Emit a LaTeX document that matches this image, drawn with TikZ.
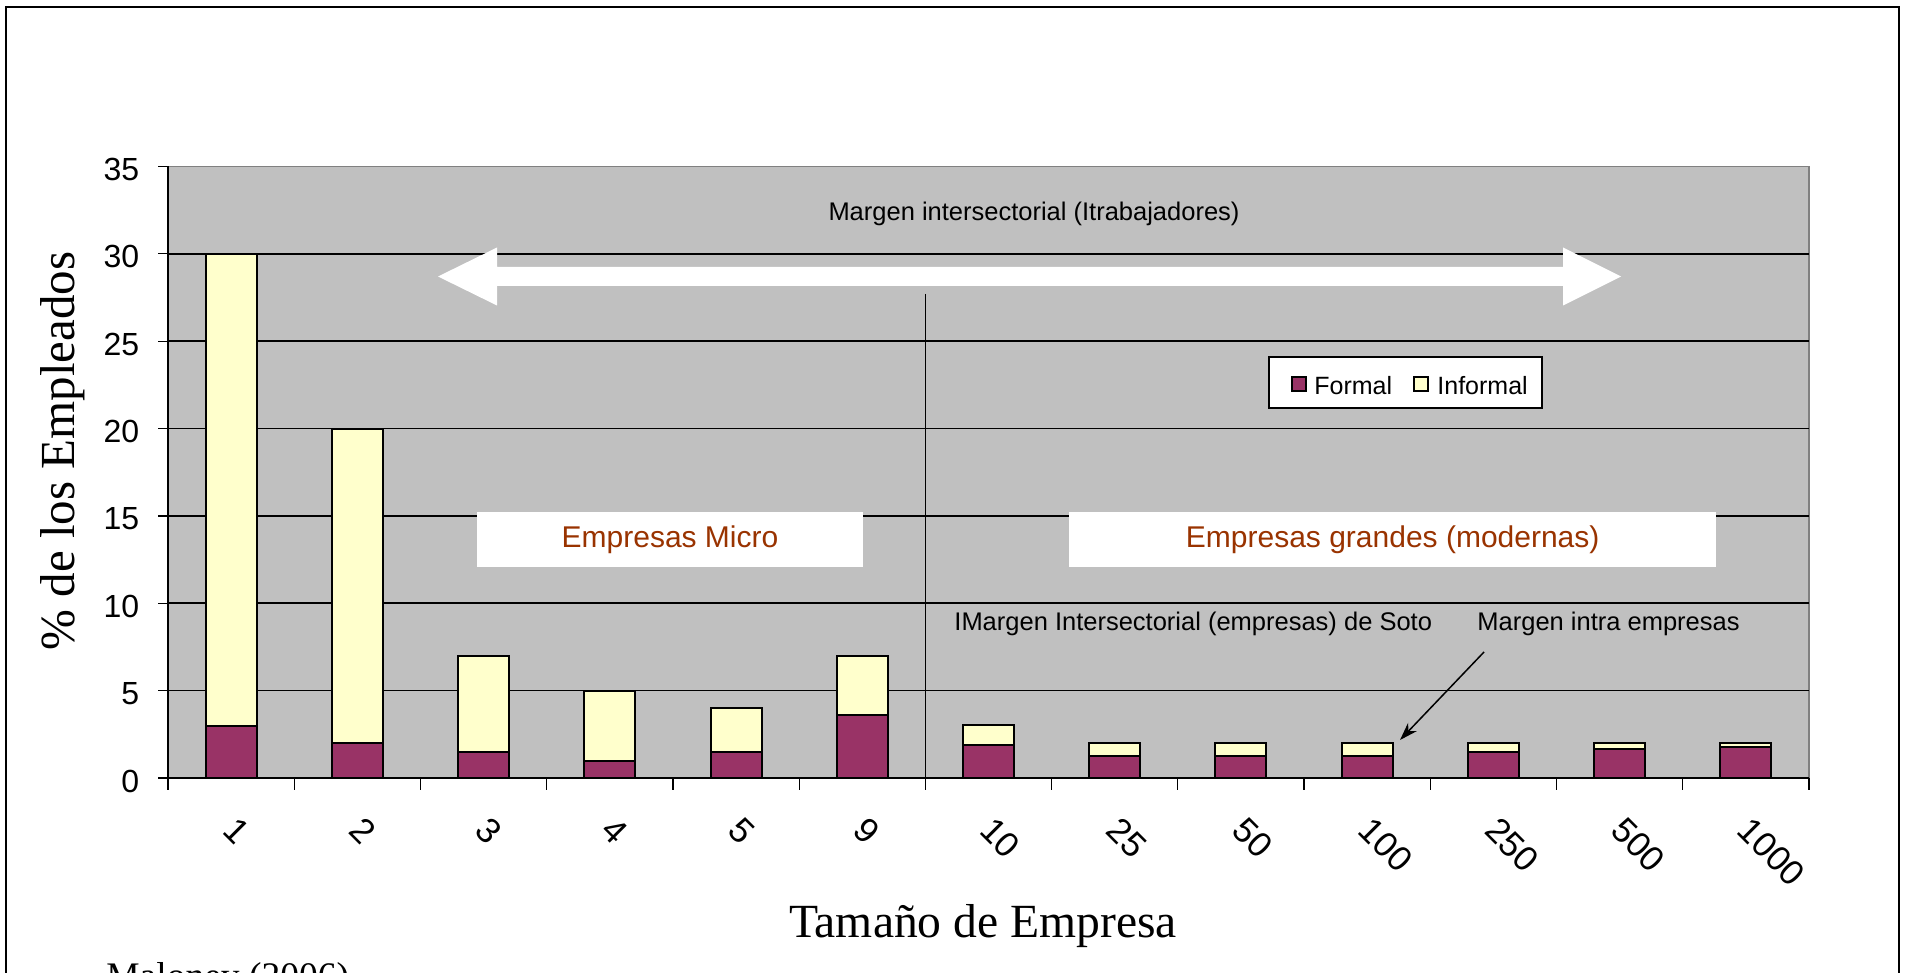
\documentclass[tikz,border=0pt]{standalone}
\usepackage{fontspec}
\setmainfont{Liberation Sans}
\newfontfamily\serifface{Liberation Serif}
\usetikzlibrary{arrows.meta}
\definecolor{formalcol}{HTML}{993366}
\definecolor{informalcol}{HTML}{FFFFCC}
\definecolor{plotbg}{HTML}{C0C0C0}
\definecolor{empcol}{HTML}{993300}
\tikzset{
  gridline/.style={line width=0.8pt, black},
  barstyle/.style={line width=1pt, black},
  axisline/.style={line width=1.1pt, black},
  tickline/.style={line width=0.6pt, black},
  ticklab/.style={font=\fontsize{16}{16}\selectfont, inner sep=0},
  xticklab/.style={font=\fontsize{17.5}{17.5}\selectfont, inner sep=0},
  annot/.style={font=\fontsize{12.75}{13}\selectfont, inner sep=0},
  empbox/.style={fill=white, inner sep=0, text=empcol, font=\fontsize{15}{15}\selectfont},
}
\begin{document}
\begin{tikzpicture}[x=0.5pt,y=-0.5pt]
\useasboundingbox (0,0) rectangle (1906,973);
\clip (0,0) rectangle (1906,973);
\fill[white] (0,0) rectangle (1906,973);
% plot area
\fill[plotbg] (168,166.5) rectangle (1809,778);
\draw[gray, line width=0.6pt] (168,166.5) -- (1809,166.5) -- (1809,778);
% gridlines
\foreach \v in {5,10,...,30} \draw[gridline] (168,{778-\v*17.471}) -- (1809,{778-\v*17.471});
% divider
\coordinate (divtop) at (925.4,294);
\coordinate (divbot) at (925.4,778);
\draw[line width=0.75pt] (divtop) -- (divbot);
% white double arrow
\fill[white] (438,276.5) -- (497,247.5) -- (497,267) -- (1563,267) -- (1563,247.5) -- (1621,276.5)
  -- (1563,305.5) -- (1563,286) -- (497,286) -- (497,305.5) -- cycle;
% bars
\foreach \i/\f/\t in {1/3/30, 2/2/20, 3/1.47/7, 4/1/5, 5/1.48/4, 6/3.58/7, 7/1.91/3.03, 8/1.25/2.03, 9/1.25/2.03, 10/1.25/2.03, 11/1.47/2.03, 12/1.68/2.03, 13/1.79/2.03}{
  \pgfmathsetmacro\cx{168+(\i-0.5)*126.23}
  \draw[barstyle, fill=informalcol] ({\cx-25.5},{778-\t*17.471}) rectangle ({\cx+25.5},{778-\f*17.471});
  \draw[barstyle, fill=formalcol] ({\cx-25.5},{778-\f*17.471}) rectangle ({\cx+25.5},778);
}
% axes
\draw[axisline] (168,166.5) -- (168,778) -- (1809,778);
\foreach \v in {0,5,...,35} {
  \draw[tickline] (158,{778-\v*17.471}) -- (168,{778-\v*17.471});
  \node[ticklab, anchor=east] (yl\v) at (139.5,{781-\v*17.471}) {\v};
}
\foreach \i in {0,...,13} \draw[tickline] ({168+\i*126.23},778) -- ({168+\i*126.23},790);
\foreach \i/\l in {1/1,2/2,3/3,4/4,5/5,6/9,7/10,8/25,9/50,10/100,11/250,12/500,13/1000}
  \node[xticklab, rotate=-45, anchor=north west] (xl\i) at ({168+(\i-0.5)*126.23+7},815) {\l};
% legend
\node[draw, fill=white, line width=0.75pt, minimum width=136.5pt, minimum height=25.5pt, inner sep=0] (legend) at (1405.5,382.5) {};
\draw[line width=0.6pt, fill=formalcol] (1292,377) rectangle (1306,391);
\draw[line width=0.6pt, fill=informalcol] (1414,377) rectangle (1428,391);
\node[anchor=base west, inner sep=0, font=\fontsize{12.5}{12.5}\selectfont] (lf) at (1314,394.3) {Formal};
\node[anchor=base west, inner sep=0, font=\fontsize{12.5}{12.5}\selectfont] (li) at (1437,394.3) {Informal};
% region boxes
\node[empbox, minimum width=193pt, minimum height=27.5pt] (micro) at (670,539.5) {Empresas Micro};
\node[empbox, minimum width=323.3pt, minimum height=27.5pt] (grandes) at (1392.7,539.5) {Empresas grandes (modernas)};
% annotations
\node[annot, anchor=base] (mit) at (1034,220.5) {Margen intersectorial (Itrabajadores)};
\node[annot, anchor=base west] (mie) at (954,630) {IMargen Intersectorial (empresas) de Soto};
\node[annot, anchor=base west] (mia) at (1477,630) {Margen intra empresas};
\coordinate (astart) at (1484,652);
\coordinate (atip) at (1400,740);
\draw[line width=0.75pt, -{Stealth[length=9pt,width=6pt]}] (astart) -- (atip);
% titles
\node[rotate=90, inner sep=0, font=\serifface\fontsize{24.5}{24.5}\selectfont] (ytitle) at (63,451) {\% de los Empleados};
\node[anchor=base, inner sep=0, font=\serifface\fontsize{23.8}{24}\selectfont] (xtitle) at (983,937) {Tamaño de Empresa};
\node[anchor=base west, inner sep=0, font=\serifface\fontsize{18.75}{19}\selectfont] (src) at (106,988) {Maloney (2006)};
% frame
\draw[line width=1.25pt] (6,7) rectangle (1899,1000);
\end{tikzpicture}
\end{document}
